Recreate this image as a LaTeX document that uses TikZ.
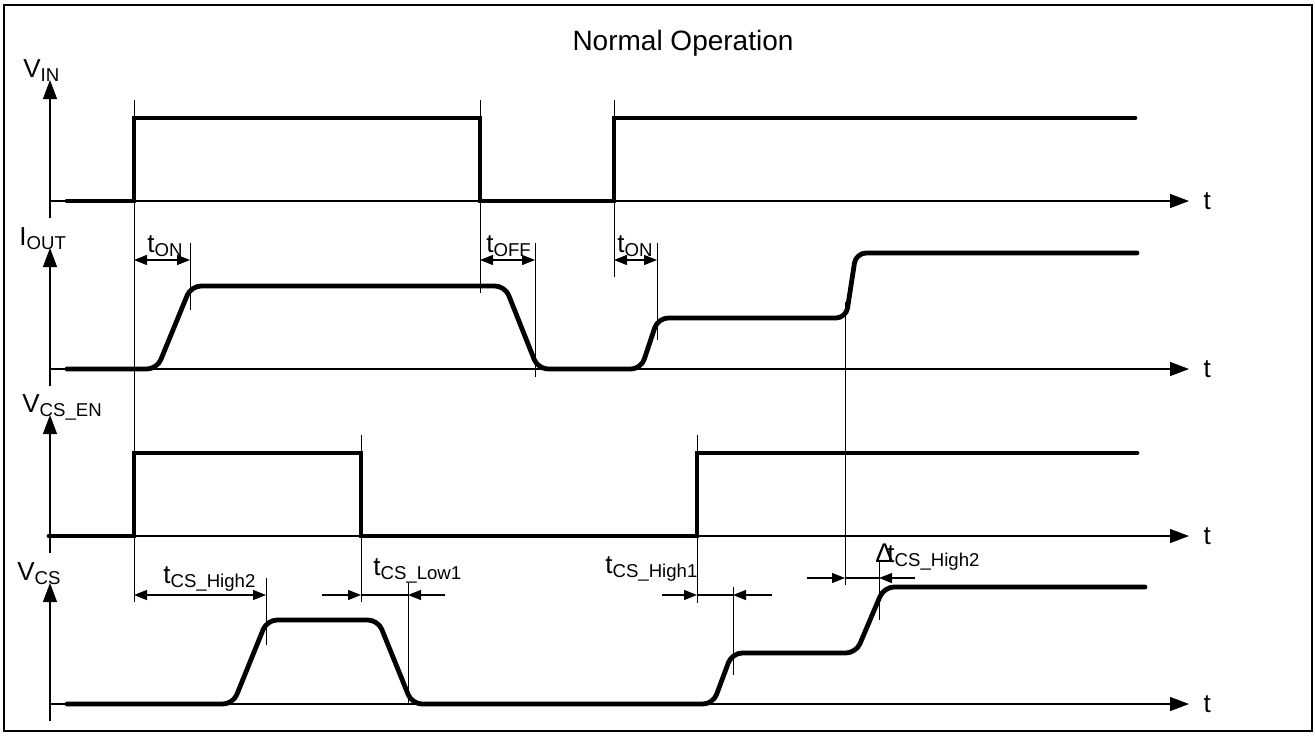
\documentclass[tikz,border=0pt]{standalone}
\usepackage{fontspec}
\setmainfont{Liberation Sans}
\usepackage{tikz}
\usetikzlibrary{arrows.meta}

\newcommand{\lo}[1]{\raisebox{-2pt}{\fontsize{9.3}{10}\selectfont #1}}

\begin{document}
\begin{tikzpicture}[
  x=0.5pt, y=-0.5pt,
  font=\fontsize{13}{14}\selectfont,
  sig/.style={line width=2.4pt, line cap=round, line join=miter},
  curve/.style={line width=2.4pt, line cap=round, rounded corners=5pt},
  ax/.style={line width=0.6pt, -{Triangle[length=9.5pt, width=7pt]}},
  guide/.style={line width=0.5pt},
  dim/.style={line width=0.6pt, -{Triangle[length=6.5pt, width=5pt]}},
  dims/.style={line width=0.6pt, {Triangle[length=6.5pt, width=5pt]}-{Triangle[length=6.5pt, width=5pt]}},
  lbl/.style={anchor=base west, inner sep=0pt}
]
\useasboundingbox (0,0) rectangle (1315,735);
\draw[line width=0.8pt] (4,5) rectangle (1312,731);
\node[anchor=base, inner sep=0pt, font=\fontsize{14}{16}\selectfont] (title) at (683,50) {Normal Operation};

% axes
\foreach \y/\nm in {201/vin, 369/iout, 536/en, 704/vcs} {
  \draw[ax] (49,\y) -- (1189,\y) node[right=7pt, inner sep=0pt] (t\nm) {t};
  \draw[ax] (50,\y+17) -- (50,\y-121);
}
\node[lbl] (lvin) at (23,77) {V\lo{IN}};
\node[lbl] (liout) at (19,245) {I\lo{OUT}};
\node[lbl] (len) at (22,412) {V\lo{CS\_EN}};
\node[lbl] (lvcs) at (17,580) {V\lo{CS}};

% guide lines
\draw[guide] (134,100) -- (134,602);
\draw[guide] (480,100) -- (480,293);
\draw[guide] (614,100) -- (614,277);
\draw[guide] (190,243) -- (190,310);
\draw[guide] (535,243) -- (535,377);
\draw[guide] (657,243) -- (657,340);
\draw[guide] (845,302) -- (845,585);
\draw[guide] (361,435) -- (361,602);
\draw[guide] (697,435) -- (697,603);
\draw[guide] (266,578) -- (266,645);
\draw[guide] (408,583) -- (408,705);
\draw[guide] (733,587) -- (733,675);
\draw[guide] (879,562) -- (879,620);

% signals
\draw[sig] (67,201) -- (134,201) -- (134,118) -- (480,118) -- (480,201)
  -- (614,201) -- (614,118) -- (1135,118);
\draw[curve] (67,369) -- (157,369) -- (191,286) -- (505,286) -- (538,369)
  -- (641,369) -- (658,318) -- (846,318) -- (856,253) -- (1137,253);
\draw[sig] (49,536) -- (134,536) -- (134,453) -- (361,453) -- (361,536)
  -- (697,536) -- (697,453) -- (1137,453);
\draw[curve] (67,704) -- (233,704) -- (267,620) -- (378,620) -- (412,704)
  -- (713,704) -- (732,653) -- (856,653) -- (884,587) -- (1145,587);

% timing marks
\draw[dims] (134,260) -- (190,260);
\draw[dims] (480,260) -- (535,260);
\draw[dims] (614,260) -- (657,260);
\draw[dims] (134,595) -- (266,595);
\draw[dim] (322,595) -- (361,595);
\draw[dim] (445,595) -- (408,595);
\draw[line width=0.6pt] (361,595) -- (408,595);
\draw[dim] (662,595) -- (697,595);
\draw[dim] (772,595) -- (733,595);
\draw[line width=0.6pt] (697,595) -- (733,595);
\draw[dim] (807,578) -- (845,578);
\draw[dim] (915,578) -- (879,578);
\draw[line width=0.6pt] (845,578) -- (879,578);

\node[lbl] (ton1) at (147,252) {t\lo{ON}};
\node[lbl] (toff) at (486,252) {t\lo{OFF}};
\node[lbl] (ton2) at (617,252) {t\lo{ON}};
\node[lbl] (tcsh2) at (163,583) {t\lo{CS\_High2}};
\node[lbl] (tcsl1) at (373,575) {t\lo{CS\_Low1}};
\node[lbl] (tcsh1) at (605,573) {t\lo{CS\_High1}};
\node[lbl] (dtcs) at (875,562) {{\fontsize{13.5}{14}\selectfont Δ}\kern-3pt t\lo{CS\_High2}};
\end{tikzpicture}
\end{document}
